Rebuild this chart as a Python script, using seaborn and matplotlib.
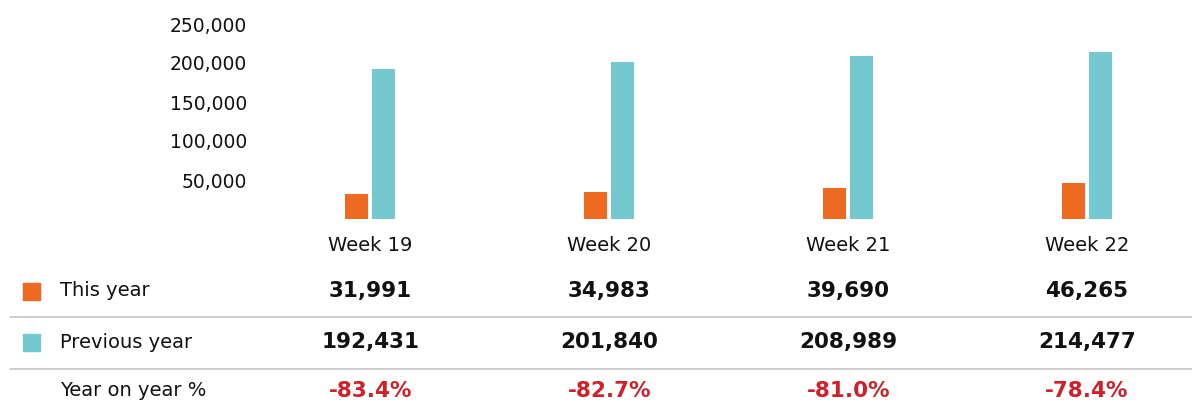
import pandas as pd
import seaborn as sns
import matplotlib.pyplot as plt
from matplotlib.lines import Line2D
from matplotlib.patches import Rectangle
from matplotlib.ticker import FuncFormatter
from matplotlib.transforms import blended_transform_factory

weeks = ['Week 19', 'Week 20', 'Week 21', 'Week 22']
this_year = [31991, 34983, 39690, 46265]
previous_year = [192431, 201840, 208989, 214477]
yoy_labels = ['-83.4%', '-82.7%', '-81.0%', '-78.4%']
series_names = ['This year', 'Previous year']
y_ticks = [50000, 100000, 150000, 200000, 250000]

orange = '#EE6A21'
teal = '#74C8CF'
red = '#D0202A'
text_col = '#111111'

df = pd.DataFrame({
    'week': weeks * 2,
    'series': [series_names[0]] * 4 + [series_names[1]] * 4,
    'value': this_year + previous_year,
})

sns.set_style('white')
plt.rcParams['font.family'] = ['DejaVu Sans']

W, H = 1192, 405
fig = plt.figure(figsize=(W / 100, H / 100), dpi=100)
ax = fig.add_axes([251 / W, (H - 219) / H, 1 - 251 / W, 205 / H])

sns.barplot(data=df, x='week', y='value', hue='series', palette=[orange, teal],
            saturation=1, width=0.226, gap=0.15, linewidth=0, legend=False, ax=ax)

ax.set_xlim(-0.5, (W - 370) / 239)
ax.set_ylim(0, 205 / 39 * 50000)
ax.set_yticks(y_ticks)
ax.yaxis.set_major_formatter(FuncFormatter(lambda v, p: f'{int(v):,}'))
ax.set_xlabel('')
ax.set_ylabel('')
ax.tick_params(axis='y', length=0, pad=3, labelsize=13.5, labelcolor=text_col)
ax.tick_params(axis='x', length=0, pad=12, labelsize=14, labelcolor=text_col)
sns.despine(ax=ax, left=True, bottom=True)

# table below the chart
row_y = [1 - 291 / H, 1 - 342 / H, 1 - 391 / H]
bt = blended_transform_factory(ax.transData, fig.transFigure)

for label, y in zip(series_names + ['Year on year %'], row_y):
    fig.text(60 / W, y, label, fontsize=14, va='center', color=text_col)

for color, y in [(orange, row_y[0]), (teal, row_y[1])]:
    fig.add_artist(Rectangle((23 / W, y - 8.5 / H), 17 / W, 17 / H,
                             transform=fig.transFigure, color=color))

for i in range(len(weeks)):
    ax.text(i, row_y[0], f'{this_year[i]:,}', transform=bt, ha='center', va='center',
            fontsize=15.5, fontweight='bold', color=text_col)
    ax.text(i, row_y[1], f'{previous_year[i]:,}', transform=bt, ha='center', va='center',
            fontsize=15.5, fontweight='bold', color=text_col)
    ax.text(i, row_y[2], yoy_labels[i], transform=bt, ha='center', va='center',
            fontsize=15.5, fontweight='bold', color=red)

for y in [1 - 317 / H, 1 - 369 / H]:
    fig.add_artist(Line2D([10 / W, 1], [y, y], transform=fig.transFigure,
                          color='#c8c8c8', lw=1.3))

plt.savefig('out.png', dpi=100)
